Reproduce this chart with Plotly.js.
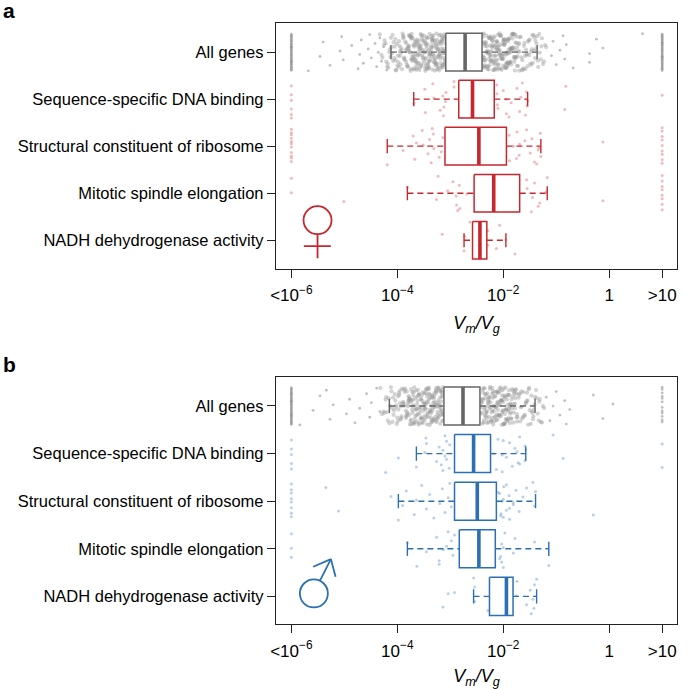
<!DOCTYPE html>
<html><head><meta charset="utf-8">
<script src="https://cdn.plot.ly/plotly-3.0.1.min.js"></script>
<style>html,body{margin:0;padding:0;background:#fff}#chart{width:690px;height:689px}</style>
</head><body><div id="chart"></div>
<script>
// ---------- categories & tick labels ----------
const categories = ["All genes","Sequence-specific DNA binding","Structural constituent of ribosome","Mitotic spindle elongation","NADH dehydrogenase activity"];
const tickVals = [-6,-4,-2,0,1];
const tickText = ["<10<sup>−6</sup>","10<sup>−4</sup>","10<sup>−2</sup>","1",">10"];

// ---------- box statistics, log10(Vm/Vg) (panel a = female, b = male) ----------
const aLowWhisker = [-4.12,-3.69,-4.19,-3.81,-2.74];
const aQ1         = [-3.085,-2.84,-3.10,-2.55,-2.58];
const aMedian     = [-2.72,-2.58,-2.46,-2.18,-2.44];
const aQ3         = [-2.40,-2.17,-1.94,-1.69,-2.31];
const aHighWhisker= [-1.36,-1.54,-1.29,-1.17,-1.95];

const bLowWhisker = [-4.15,-3.64,-3.98,-3.81,-2.56];
const bQ1         = [-3.12,-2.92,-2.92,-2.83,-2.26];
const bMedian     = [-2.76,-2.56,-2.49,-2.46,-1.94];
const bQ3         = [-2.44,-2.24,-2.13,-2.15,-1.815];
const bHighWhisker= [-1.40,-1.575,-1.39,-1.14,-1.37];

// ---------- individual gene values, log10(Vm/Vg); -6 = "<10^-6", 1 = ">10" ----------
// panel a, All genes
const aAllFloor = [-6,-6,-6,-6,-6,-6,-6,-6,-6,-6,-6,-6,-6,-6,-6,-6,-6,-6,-6,-6,-6,-6,-6,-6,-6,-6,-6,-6,-6,-6,-6,-6,-6,-6,-6,-6];
const aAllCeil  = [1,1,1,1,1,1,1,1,1,1,1,1,1,1,1,1,1,1,1,1,1,1,1,1,1,1,1,1,1,1,1,1,1,1,1,1];
const aAllSparse = [-5.68,-5.46,-5.40,-5.27,-5.08,-5.05,-5.02,-4.86,-4.74,-4.71,-4.68,-4.64,-4.55,-4.52,-4.49,-4.42,-4.39,-4.36,-4.33,-4.30,-4.26,-4.20,
  -1.09,-1.06,-1.00,-0.93,-0.87,-0.84,-0.81,-0.68,-0.37,-0.24,-0.37,-0.12,0.63];
const aAllLeftMid = [-4.33,-4.28,-4.22,-4.19,-4.15,-4.12,-4.08,-4.05,-4.02,-3.99,-3.97,-3.94,-3.92,-3.89,-3.87,-4.25,-4.17,-4.10,-4.04,-3.98,-3.93,-3.90,-4.13,-4.07,-4.00,-3.95,-3.88,-4.03,-3.96,-3.91,
  -4.30,-4.24,-4.18,-4.14,-4.09,-4.06,-4.01,-3.97,-3.93,-3.89,-4.21,-4.11,-4.03,-3.95];
const aAllLeftDense = [-3.85,-3.82,-3.78,-3.77,-3.74,-3.70,-3.69,-3.65,-3.62,-3.60,-3.57,-3.56,-3.52,-3.49,-3.47,-3.44,-3.41,-3.39,-3.36,-3.34,-3.31,-3.29,-3.26,-3.24,-3.21,-3.19,-3.17,-3.14,-3.12,-3.10,
  -3.83,-3.80,-3.75,-3.72,-3.67,-3.64,-3.59,-3.54,-3.51,-3.46,-3.42,-3.37,-3.33,-3.28,-3.23,-3.18,-3.13,-3.09,
  -3.81,-3.76,-3.71,-3.66,-3.61,-3.58,-3.53,-3.48,-3.43,-3.40,-3.35,-3.30,-3.27,-3.22,-3.20,-3.16,-3.11,
  -3.79,-3.73,-3.68,-3.63,-3.55,-3.50,-3.45,-3.38,-3.32,-3.25,-3.21,-3.15,-3.10,
  -3.84,-3.78,-3.69,-3.62,-3.57,-3.49,-3.44,-3.41,-3.36,-3.29,-3.24,-3.19,-3.14,-3.12,
  -3.74,-3.65,-3.56,-3.47,-3.39,-3.34,-3.26,-3.17,-3.11,
  -3.87,-3.83,-3.80,-3.77,-3.73,-3.71,-3.68,-3.64,-3.62,-3.59,-3.55,-3.52,-3.50,-3.46,-3.43,-3.40,-3.38,-3.35,-3.31,-3.28,-3.26,-3.22,-3.20,-3.16,-3.13,-3.10,
  -3.86,-3.79,-3.75,-3.70,-3.66,-3.61,-3.57,-3.54,-3.48,-3.45,-3.41,-3.37,-3.33,-3.30,-3.25,-3.21,-3.18,-3.15,-3.11,
  -3.82,-3.76,-3.72,-3.67,-3.63,-3.58,-3.53,-3.49,-3.44,-3.39,-3.34,-3.29,-3.24,-3.19,-3.14,-3.09,
  -3.78,-3.69,-3.60,-3.51,-3.42,-3.36,-3.32,-3.27,-3.23,-3.17,-3.12,
  -3.74,-3.65,-3.56,-3.47,-3.40,-3.35,-3.28,-3.21,-3.15,-3.10,
  -3.58,-3.44,-3.33,-3.25,-3.18,-3.13];
const aAllRightDense = [-2.39,-2.36,-2.33,-2.31,-2.28,-2.25,-2.23,-2.20,-2.17,-2.15,-2.12,-2.09,-2.07,-2.04,-2.01,-1.99,-1.96,-1.93,-1.91,-1.88,-1.85,-1.83,-1.80,-1.77,-1.74,-1.72,-1.69,
  -2.38,-2.34,-2.29,-2.26,-2.21,-2.18,-2.13,-2.10,-2.05,-2.02,-1.97,-1.94,-1.89,-1.86,-1.81,-1.78,-1.73,
  -2.40,-2.35,-2.30,-2.24,-2.19,-2.14,-2.08,-2.03,-1.98,-1.92,-1.87,-1.82,-1.76,-1.70,
  -2.37,-2.32,-2.27,-2.22,-2.16,-2.11,-2.06,-2.00,-1.95,-1.90,-1.84,-1.79,-1.71,
  -2.36,-2.29,-2.23,-2.18,-2.12,-2.07,-2.03,-1.96,-1.91,-1.85,-1.75,
  -2.34,-2.25,-2.16,-2.08,-1.99,-1.92,-1.83,-1.77,
  -2.40,-2.37,-2.34,-2.30,-2.27,-2.24,-2.21,-2.19,-2.16,-2.13,-2.10,-2.08,-2.05,-2.02,-1.98,-1.95,-1.92,-1.90,-1.87,-1.84,-1.81,-1.78,-1.75,-1.72,-1.69,
  -2.39,-2.35,-2.31,-2.28,-2.23,-2.20,-2.15,-2.11,-2.06,-2.01,-1.97,-1.93,-1.88,-1.83,-1.79,-1.74,-1.70,
  -2.38,-2.33,-2.26,-2.22,-2.17,-2.12,-2.07,-2.04,-2.00,-1.94,-1.89,-1.86,-1.80,-1.76,
  -2.36,-2.29,-2.25,-2.18,-2.14,-2.09,-2.03,-1.97,-1.91,-1.85,-1.78,
  -2.32,-2.27,-2.20,-2.13,-2.06,-1.99,-1.93,-1.82,
  -2.37,-2.24,-2.11,-2.00,-1.87];
const aAllRightMid = [-1.67,-1.64,-1.61,-1.58,-1.55,-1.52,-1.49,-1.46,-1.43,-1.40,-1.37,-1.34,-1.31,-1.27,-1.23,-1.19,-1.65,-1.59,-1.53,-1.47,-1.42,-1.36,-1.29,-1.21,-1.62,-1.56,-1.50,-1.44,-1.38,-1.32,
  -1.66,-1.60,-1.54,-1.48,-1.41,-1.35,-1.28,-1.63,-1.51,-1.39,-1.25,-1.57,-1.45];
// panel a, GO categories
const aSeq = [-6,-6,-6,-6,-6,-6,-3.69,-3.48,-3.47,-3.31,-3.33,-3.12,-3.08,-3.13,-3.09,-2.93,-3.19,-3.14,-2.93,
  -2.11,-2.00,-1.94,-1.95,-2.12,-2.10,-2.12,-1.89,-1.85,-1.74,-1.69,-1.67,-1.64,-1.55,-1.56,-1.58,-1.54,-0.82,-0.84,1];
const aStr = [-6,-6,-6,-6,-6,-6,-6,-6,-6,-6,-6,-4.19,-3.89,-3.70,-3.67,-3.51,-3.53,-3.42,-3.39,-3.36,-3.31,-3.32,-3.21,-3.64,-3.34,-3.17,-3.14,
  -1.88,-1.81,-1.74,-1.70,-1.59,-1.37,-1.34,-1.89,-1.75,-1.69,-1.56,-1.49,-1.46,-1.41,-1.32,-1.30,-1.29,-0.12,1,1,1,1,1,1,1,1,1];
const aMit = [-6,-6,-5.01,-3.81,-2.86,-2.89,-2.95,-2.88,-3.05,-3.23,-3.26,-2.83,-2.82,-2.69,-1.56,-1.31,-1.55,-1.47,-1.45,-1.41,-1.34,-1.19,-1.17,-0.12,1,1,1,1,1,1,1,1];
const aNadh = [-2.74,-2.73,-2.63,-2.29,-2.29,-1.78,-1.95,-2.07,-2.13,-3.15,-2.54];

// panel b, All genes
const bAllFloor = [-6,-6,-6,-6,-6,-6,-6,-6,-6,-6,-6,-6,-6,-6,-6,-6,-6,-6,-6,-6,-6,-6,-6,-6,-6,-6,-6,-6,-6,-6,-6,-6,-6,-6,-6,-6];
const bAllCeil  = [1,1,1,1,1,1,1,1,1,1,1,1];
const bAllSparse = [-5.84,-5.59,-5.46,-5.27,-5.21,-5.34,-4.96,-4.90,-4.80,-4.71,-4.58,-4.52,-4.49,-4.39,-4.33,
  -1.19,-1.12,-1.06,-1.00,-0.93,-0.84,-0.81,-0.745,-0.30,-0.12,0.07];
const bAllLeftMid = [-4.32,-4.26,-4.21,-4.18,-4.14,-4.11,-4.07,-4.04,-4.01,-3.98,-3.96,-3.93,-3.90,-3.88,-4.24,-4.16,-4.09,-4.03,-3.97,-3.92,-3.89,-4.12,-4.06,-3.99,-3.94,-4.02,-3.95,
  -4.29,-4.22,-4.15,-4.10,-4.05,-4.00,-3.95,-3.91,-4.19,-4.08,-3.99,-3.93];
const bAllLeftDense = [-3.86,-3.83,-3.79,-3.76,-3.72,-3.70,-3.67,-3.63,-3.61,-3.58,-3.55,-3.53,-3.50,-3.47,-3.45,-3.42,-3.40,-3.37,-3.35,-3.32,-3.29,-3.27,-3.24,-3.22,-3.19,-3.17,-3.14,
  -3.84,-3.80,-3.74,-3.71,-3.66,-3.62,-3.57,-3.52,-3.48,-3.44,-3.39,-3.34,-3.30,-3.25,-3.20,-3.15,
  -3.81,-3.77,-3.69,-3.64,-3.59,-3.54,-3.49,-3.43,-3.38,-3.33,-3.28,-3.23,-3.18,-3.13,
  -3.78,-3.73,-3.65,-3.60,-3.56,-3.46,-3.41,-3.36,-3.31,-3.26,-3.21,-3.16,
  -3.82,-3.75,-3.68,-3.51,-3.44,-3.35,-3.28,-3.19,-3.14,
  -3.70,-3.58,-3.47,-3.39,-3.23,
  -3.88,-3.85,-3.81,-3.78,-3.75,-3.71,-3.69,-3.66,-3.62,-3.60,-3.57,-3.54,-3.51,-3.48,-3.45,-3.43,-3.40,-3.36,-3.33,-3.30,-3.28,-3.25,-3.22,-3.18,-3.16,-3.13,
  -3.87,-3.82,-3.77,-3.73,-3.68,-3.64,-3.59,-3.55,-3.50,-3.46,-3.42,-3.38,-3.34,-3.29,-3.26,-3.21,-3.17,-3.14,
  -3.84,-3.79,-3.74,-3.70,-3.65,-3.61,-3.56,-3.52,-3.47,-3.41,-3.37,-3.32,-3.27,-3.24,-3.19,-3.15,
  -3.80,-3.72,-3.63,-3.53,-3.44,-3.39,-3.35,-3.31,-3.23,-3.20,-3.13,
  -3.76,-3.67,-3.58,-3.49,-3.42,-3.30,-3.24,-3.16,
  -3.62,-3.48,-3.36,-3.27,-3.18];
const bAllRightDense = [-2.42,-2.39,-2.36,-2.33,-2.31,-2.28,-2.25,-2.22,-2.20,-2.17,-2.14,-2.11,-2.09,-2.06,-2.03,-2.00,-1.98,-1.95,-1.92,-1.89,-1.87,-1.84,-1.81,-1.78,-1.75,-1.73,
  -2.41,-2.37,-2.32,-2.27,-2.23,-2.18,-2.13,-2.08,-2.04,-1.99,-1.94,-1.90,-1.85,-1.80,-1.76,
  -2.40,-2.34,-2.29,-2.24,-2.19,-2.15,-2.10,-2.05,-2.01,-1.96,-1.91,-1.86,-1.82,-1.74,
  -2.38,-2.30,-2.26,-2.21,-2.16,-2.12,-2.07,-2.02,-1.97,-1.93,-1.88,-1.79,
  -2.35,-2.27,-2.19,-2.10,-2.02,-1.94,-1.86,-1.77,
  -2.43,-2.40,-2.37,-2.34,-2.30,-2.27,-2.24,-2.21,-2.18,-2.16,-2.13,-2.10,-2.07,-2.04,-2.01,-1.98,-1.95,-1.92,-1.90,-1.87,-1.83,-1.80,-1.77,-1.74,
  -2.42,-2.38,-2.33,-2.29,-2.25,-2.20,-2.15,-2.11,-2.06,-2.02,-1.97,-1.93,-1.88,-1.84,-1.79,-1.75,
  -2.41,-2.35,-2.31,-2.26,-2.22,-2.17,-2.12,-2.08,-2.03,-1.99,-1.94,-1.89,-1.85,-1.78,
  -2.39,-2.32,-2.28,-2.23,-2.14,-2.09,-2.05,-2.00,-1.96,-1.91,-1.82,
  -2.36,-2.29,-2.19,-2.12,-2.04,-1.97,-1.89,
  -2.34,-2.21,-2.09,-1.99,-1.86];
const bAllRightMid = [-1.71,-1.68,-1.65,-1.62,-1.59,-1.56,-1.53,-1.50,-1.47,-1.44,-1.41,-1.38,-1.35,-1.31,-1.27,-1.23,-1.69,-1.63,-1.57,-1.51,-1.46,-1.40,-1.33,-1.25,-1.66,-1.60,-1.54,-1.48,-1.42,
  -1.70,-1.64,-1.58,-1.52,-1.45,-1.37,-1.29,-1.67,-1.55,-1.43,-1.32];
// panel b, GO categories
const bSeq = [-6,-6,-6,-6,-6,-4.22,-3.98,-3.45,-3.64,-3.48,-3.46,-3.26,-3.21,-3.14,-3.10,-3.07,-3.17,-3.14,-3.10,-3.07,-3.01,-3.02,
  -2.18,-2.10,-1.72,-1.78,-2.02,-1.94,-1.88,-1.83,-1.74,-1.69,-1.59,-1.59,-2.13,-2.02,-2.00,-1.69,-1.575,-1.06,-0.87,1,1];
const bStr = [-6,-6,-6,-6,-6,-6,-6,-6,-5.35,-5.11,-4.12,-3.98,-3.90,-3.83,-3.68,-3.64,-3.54,-3.45,-3.39,-3.31,-3.20,-3.15,-3.10,-3.04,-3.01,-2.98,
  -2.10,-2.05,-2.02,-1.99,-1.94,-1.89,-1.88,-1.81,-1.76,-2.04,-2.00,-1.94,-1.88,-2.07,-2.00,-1.81,-1.56,-1.70,-1.63,-1.44,-1.41,-1.39,-0.30];
const bMit = [-6,-6,-6,-3.81,-3.63,-3.45,-3.26,-3.21,-3.07,-3.04,-2.95,-2.98,-3.21,-3.13,-2.92,-2.07,-2.03,-2.00,-1.81,-1.78,-2.03,-2.00,-1.97,-2.05,-1.41,-1.14];
const bNadh = [-3.14,-2.92,-2.56,-2.54,-2.54,-2.29,-1.75,-1.74,-1.56,-1.49,-1.47,-1.44,-1.41,-1.42,-3.04,-1.37];

// ---------- styling ----------
const RED = '#c8262c', BLUE = '#2b70b2', GREY = '#666666';
const HALF = 0.4;      // half box height (category units)
const STAPLE = 0.15;   // half whisker-cap height

function jitter(vals, cat, seed) {
  // deterministic low-discrepancy vertical spread inside the category band
  return vals.map((v, i) => cat + ((((i + 1) * 0.6180339887 + seed) % 1) - 0.5) * 2 * HALF);
}

function panel(xa, ya, allSparse, allDense, groups, st, col, ptCol) {
  const tr = [];
  tr.push({type:'scatter', mode:'markers', xaxis:xa, yaxis:ya, hoverinfo:'skip',
    x: allDense, y: jitter(allDense, 0, 0.41),
    marker:{size:4.2, color:'rgba(150,150,150,0.42)', line:{width:0}}});
  tr.push({type:'scatter', mode:'markers', xaxis:xa, yaxis:ya, hoverinfo:'skip',
    x: allSparse, y: jitter(allSparse, 0, 0.13),
    marker:{size:2.8, color:'rgba(140,140,140,0.55)', line:{width:0}}});
  let gx = [], gy = [];
  groups.forEach((g, k) => { gx = gx.concat(g); gy = gy.concat(jitter(g, k + 1, 0.29 * (k + 1))); });
  tr.push({type:'scatter', mode:'markers', xaxis:xa, yaxis:ya, hoverinfo:'skip',
    x: gx, y: gy, marker:{size:3, color:ptCol, line:{width:0}}});

  const cols = [GREY, col, col, col, col];
  [[0],[1,2,3,4]].forEach(idx => {
    const c = cols[idx[0]];
    let wx=[], wy=[], sx=[], sy=[], bx=[], by=[], mx=[], my=[];
    idx.forEach(i => {
      wx.push(st.lo[i], st.q1[i], null, st.q3[i], st.hi[i], null);
      wy.push(i, i, null, i, i, null);
      sx.push(st.lo[i], st.lo[i], null, st.hi[i], st.hi[i], null);
      sy.push(i-STAPLE, i+STAPLE, null, i-STAPLE, i+STAPLE, null);
      bx.push(st.q1[i], st.q3[i], st.q3[i], st.q1[i], st.q1[i], null);
      by.push(i-HALF, i-HALF, i+HALF, i+HALF, i-HALF, null);
      mx.push(st.med[i], st.med[i], null);
      my.push(i-HALF, i+HALF, null);
    });
    tr.push({type:'scatter', mode:'lines', xaxis:xa, yaxis:ya, hoverinfo:'skip', x:wx, y:wy,
      line:{color:c, width:1.4, dash:'6px,4px'}});
    tr.push({type:'scatter', mode:'lines', xaxis:xa, yaxis:ya, hoverinfo:'skip', x:sx, y:sy,
      line:{color:c, width:1.4}});
    tr.push({type:'scatter', mode:'lines', xaxis:xa, yaxis:ya, hoverinfo:'skip', x:bx, y:by,
      fill:'toself', fillcolor:'#ffffff', line:{color:c, width:1.5}});
    tr.push({type:'scatter', mode:'lines', xaxis:xa, yaxis:ya, hoverinfo:'skip', x:mx, y:my,
      line:{color:c, width:3.6}});
  });
  return tr;
}

const aAllOuter = [].concat(aAllFloor, aAllSparse, aAllCeil);
const aAllCore  = [].concat(aAllLeftMid, aAllLeftDense, aAllRightDense, aAllRightMid);
const bAllOuter = [].concat(bAllFloor, bAllSparse, bAllCeil);
const bAllCore  = [].concat(bAllLeftMid, bAllLeftDense, bAllRightDense, bAllRightMid);

const data = [].concat(
  panel('x','y', aAllOuter, aAllCore, [aSeq,aStr,aMit,aNadh],
    {lo:aLowWhisker, q1:aQ1, med:aMedian, q3:aQ3, hi:aHighWhisker}, RED, 'rgba(210,60,70,0.35)'),
  panel('x2','y2', bAllOuter, bAllCore, [bSeq,bStr,bMit,bNadh],
    {lo:bLowWhisker, q1:bQ1, med:bMedian, q3:bQ3, hi:bHighWhisker}, BLUE, 'rgba(60,120,190,0.35)')
);

const xCommon = {
  range:[-6.29,1.28], tickvals:tickVals, ticktext:tickText, ticks:'outside', ticklen:8, tickwidth:1,
  tickcolor:'#222', showline:true, mirror:true, linecolor:'#222', linewidth:1.2, showgrid:false,
  zeroline:false, tickfont:{size:17, color:'#000'}, ticklabelstandoff:3,
  title:{text:'<i>V<sub>m</sub>/V<sub>g</sub></i>', font:{size:18, color:'#000'}, standoff:12}
};
const yCommon = {
  tickvals:[0,1,2,3,4], ticktext:categories, ticks:'outside', ticklen:8, tickwidth:1, tickcolor:'#222',
  showline:true, mirror:true, linecolor:'#222', linewidth:1.2, showgrid:false, zeroline:false,
  tickfont:{size:16.5, color:'#000'}
};

function sym(xref, yref, ax, ay, color, segs) {
  const base = {xref:xref, yref:yref, xsizemode:'pixel', ysizemode:'pixel', xanchor:ax, yanchor:ay,
    line:{color:color, width:1.8}, layer:'above'};
  return segs.map(s => Object.assign({}, base, s));
}

const shapes = [].concat(
  sym('x','y', -5.506, 3.574, RED, [
    {type:'circle', x0:-14, x1:14, y0:-14, y1:14},
    {type:'line', x0:0, x1:0, y0:-14, y1:-38},
    {type:'line', x0:-13.7, x1:13.3, y0:-26, y1:-26}
  ]),
  sym('x2','y2', -5.575, 3.937, BLUE, [
    {type:'circle', x0:-14, x1:14, y0:-14, y1:14},
    {type:'line', x0:6, x1:17, y0:12.5, y1:34.3},
    {type:'line', x0:17, x1:-0.7, y0:34.3, y1:26.6},
    {type:'line', x0:17, x1:21.7, y0:34.3, y1:16.6}
  ])
);

const layout = {
  width:690, height:689, margin:{l:276, r:13, t:23, b:65, pad:0}, showlegend:false,
  paper_bgcolor:'#ffffff', plot_bgcolor:'#ffffff',
  font:{family:'"Liberation Sans", Arial, sans-serif', color:'#000'},
  xaxis:Object.assign({}, xCommon, {domain:[0,1], anchor:'y'}),
  yaxis:Object.assign({}, yCommon, {domain:[0.5909,1], anchor:'x', range:[4.61,-0.62]}),
  xaxis2:Object.assign({}, xCommon, {domain:[0,1], anchor:'y2'}),
  yaxis2:Object.assign({}, yCommon, {domain:[0,0.4103], anchor:'x2', range:[4.58,-0.6]}),
  shapes:shapes,
  annotations:[
    {text:'<b>a</b>', xref:'paper', yref:'paper', x:-0.686, y:1.021, xanchor:'left', yanchor:'middle',
     showarrow:false, font:{size:21, color:'#000'}},
    {text:'<b>b</b>', xref:'paper', yref:'paper', x:-0.686, y:0.4316, xanchor:'left', yanchor:'middle',
     showarrow:false, font:{size:21, color:'#000'}}
  ]
};

Plotly.newPlot('chart', data, layout, {staticPlot:true, displayModeBar:false});
</script></body></html>
